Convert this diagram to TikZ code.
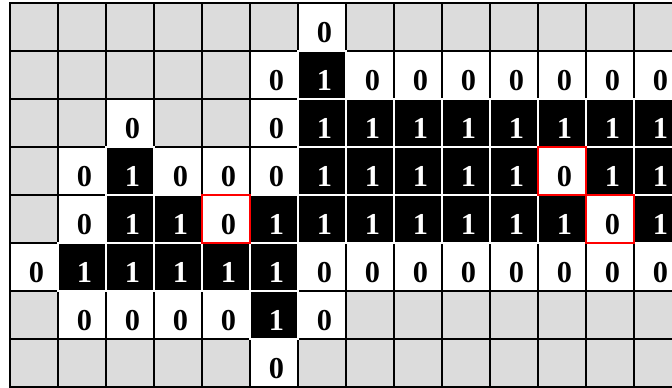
\documentclass[tikz,border=0pt]{standalone}
\usepackage{fontspec}
\setmainfont{Liberation Serif}
\usepackage{xcolor}
\usepackage{tikz}

\definecolor{cellgray}{HTML}{DCDCDC}

\begin{document}
\begin{tikzpicture}[x=1cm,y=1cm]
\tikzstyle{cell}=[minimum size=1cm,inner sep=0pt,outer sep=0pt,line width=1.1pt]
\tikzstyle{cell g}=[cell,draw=black,fill=cellgray]
\tikzstyle{cell 0}=[cell,draw=black,fill=white]
\tikzstyle{cell 1}=[cell,draw=white,fill=black]
\tikzstyle{bit}=[inner sep=0pt,font=\bfseries\fontsize{18}{18}\selectfont]
\tikzstyle{bit g}=[bit,node contents={}]
\tikzstyle{bit 0}=[bit,node contents=0]
\tikzstyle{bit 1}=[bit,text=white,node contents=1]
\tikzstyle{rim g}=[]
\tikzstyle{rim 0}=[]
\tikzstyle{rim 1}=[draw=white,line width=0.7pt]
\tikzstyle{redbox}=[draw=red,line width=1.4pt]
\useasboundingbox (-0.2083,0.0625) rectangle (13.7917,-8.0208);
% g = unused cell, 0 / 1 = pixel value
\def\bitrows{{g,g,g,g,g,g,0,g,g,g,g,g,g,g},
  {g,g,g,g,g,0,1,0,0,0,0,0,0,0},
  {g,g,0,g,g,0,1,1,1,1,1,1,1,1},
  {g,0,1,0,0,0,1,1,1,1,1,0,1,1},
  {g,0,1,1,0,1,1,1,1,1,1,1,0,1},
  {0,1,1,1,1,1,0,0,0,0,0,0,0,0},
  {g,0,0,0,0,1,0,g,g,g,g,g,g,g},
  {g,g,g,g,g,0,g,g,g,g,g,g,g,g}}
\foreach \row [count=\y from 0] in \bitrows {
  \foreach \s [count=\x from 0] in \row {
    \node[cell \s] (c\x-\y) at (\x+.5,-\y-.5) {};
    \node[name=d\x-\y,at={([shift={(.05,-.12)}]c\x-\y.center)},bit \s];
  }
}
% white lines between the black cells
\foreach \row [count=\y from 0] in \bitrows {
  \foreach \s [count=\x from 0] in \row
    \path[rim \s] (c\x-\y.north west) rectangle (c\x-\y.south east);
}
% marked cells
\foreach \p in {c11-3,c4-4,c12-4}
  \draw[redbox] (\p.north west) rectangle (\p.south east);
\end{tikzpicture}
\end{document}
